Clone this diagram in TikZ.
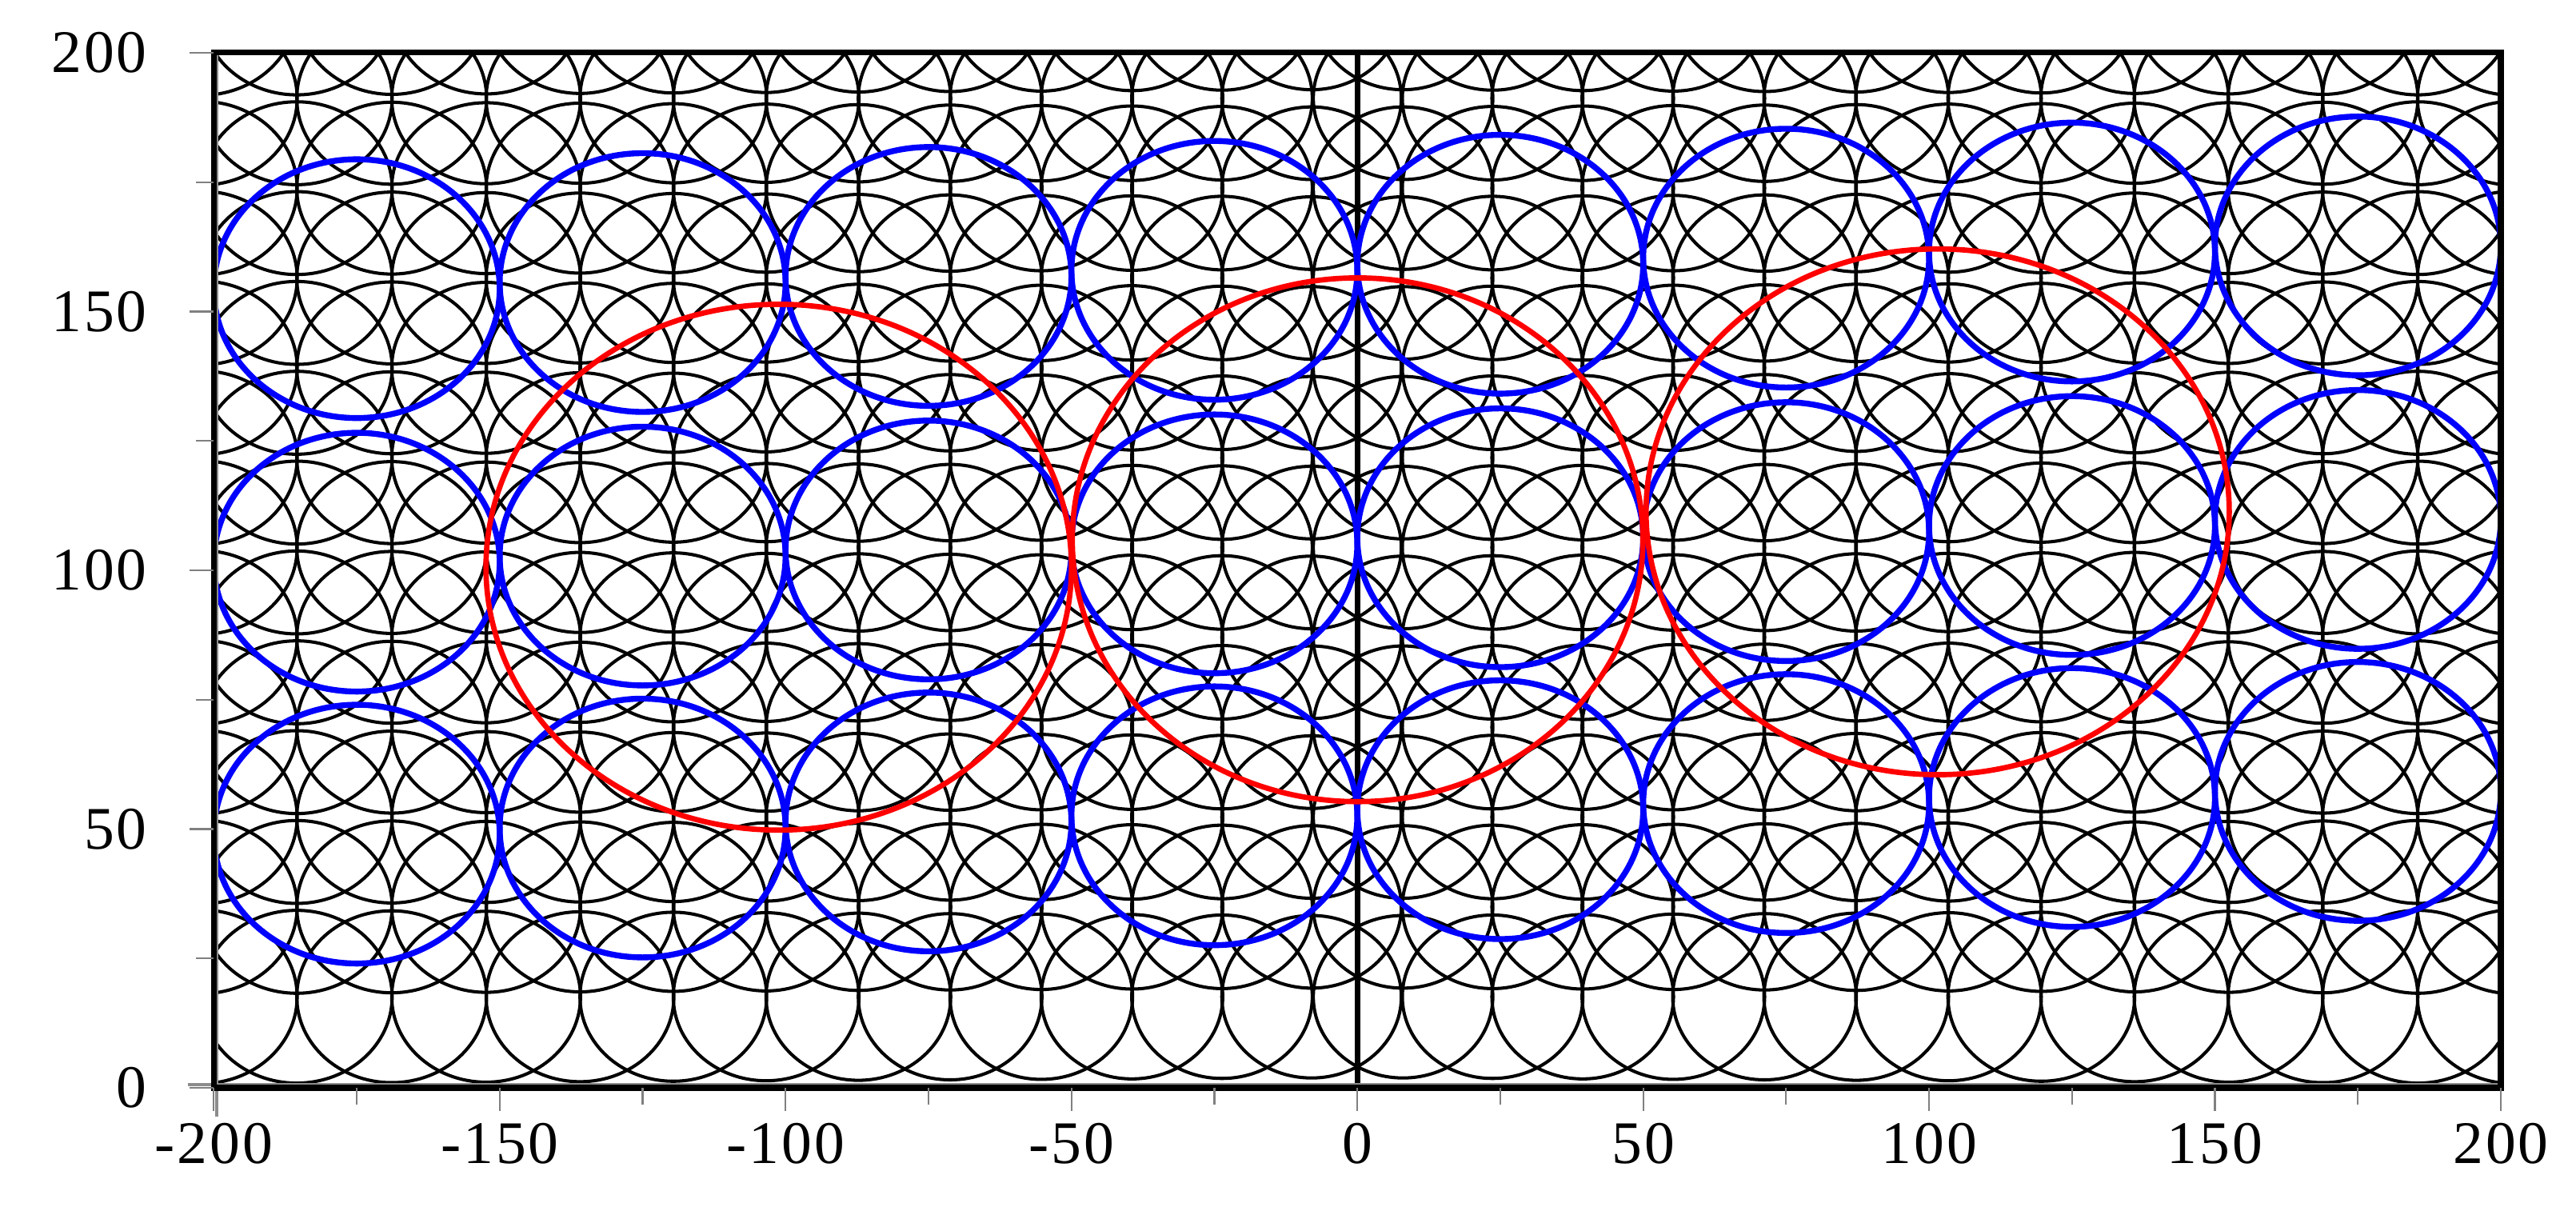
\documentclass[tikz,border=0pt]{standalone}
\usepackage{fontspec}
\setmainfont{Liberation Serif}
\begin{document}
\begin{tikzpicture}[x=0.07149cm,y=0.0647cm,
  cellc/.style={line width=1.15pt,black},
  bluec/.style={line width=2.1pt,blue},
  redc/.style={line width=1.9pt,red},
  framec/.style={line width=2pt,black},
  axisc/.style={line width=1.2pt,black!45},
  tickc/.style={line width=0.6pt,black!50},
  lab/.style={font=\fontsize{21.5}{25}\selectfont\addfontfeatures{LetterSpace=4},inner sep=0pt}]
\useasboundingbox (-237.40,-24.575) rectangle (213.15,210.20);
\begin{scope}
  \clip (-200,0) rectangle (200,200);
  % small cells
  \foreach \m in {0,...,11}{
    \pgfmathsetmacro\cy{17.6+17.36*\m}
    \foreach \k in {0,...,12}{
      \pgfmathsetmacro\px{8+15.616*\k+0.0473*\k*\k}
      \pgfmathsetmacro\rr{15.7+0.09*\k}
      \draw[cellc] (\px,\cy) ellipse [x radius=\rr, y radius=\rr];
      \draw[cellc] (-\px,\cy) ellipse [x radius=\rr, y radius=\rr];
    }
  }
  \draw[framec] (0,0) -- (0,200);
  % medium cells
  \foreach \cx in {-175,-125,...,175}{
    \foreach \Y in {158.55,105.7,53.15}{
      \pgfmathsetmacro\cyb{\Y+0.0236*\cx}
      \draw[bluec] (\cx,\cyb) ellipse [x radius=25, y radius=25];
    }
  }
  % large cells
  \draw[redc] (-101.2,100.6) ellipse [x radius=51.2, y radius=50.8];
  \draw[redc] (0.05,105.9) ellipse [x radius=49.9, y radius=50.6];
  \draw[redc] (101.5,111.3) ellipse [x radius=51.0, y radius=50.8];
\end{scope}
% axes
\draw[axisc] (-199.5,-5.5) -- (-199.5,200);
\draw[axisc] (-204.5,0.6) -- (200,0.6);
\draw[framec] (-200,0) rectangle (200,200);
\foreach \v in {0,50,...,200}{
  \draw[tickc] (-204.2,\v) -- (-200,\v);
}
\foreach \v in {25,75,...,175}{
  \draw[tickc] (-203.1,\v) -- (-200,\v);
}
\foreach \v in {-200,-150,...,200}{
  \draw[tickc] (\v,0) -- (\v,-4.5);
}
\foreach \v in {-175,-125,...,175}{
  \draw[tickc] (\v,0) -- (\v,-3.2);
}
\foreach \v [count=\i] in {0,50,100,150,200}{
  \node[lab,anchor=east] (ylab\i) at (-211.6,\v) {\v};
}
\foreach \v [count=\i] in {-200,-150,-100,-50,0,50,100,150,200}{
  \node[lab,anchor=base] (xlab\i) at (\v,-14.6) {\v};
}
\end{tikzpicture}
\end{document}
